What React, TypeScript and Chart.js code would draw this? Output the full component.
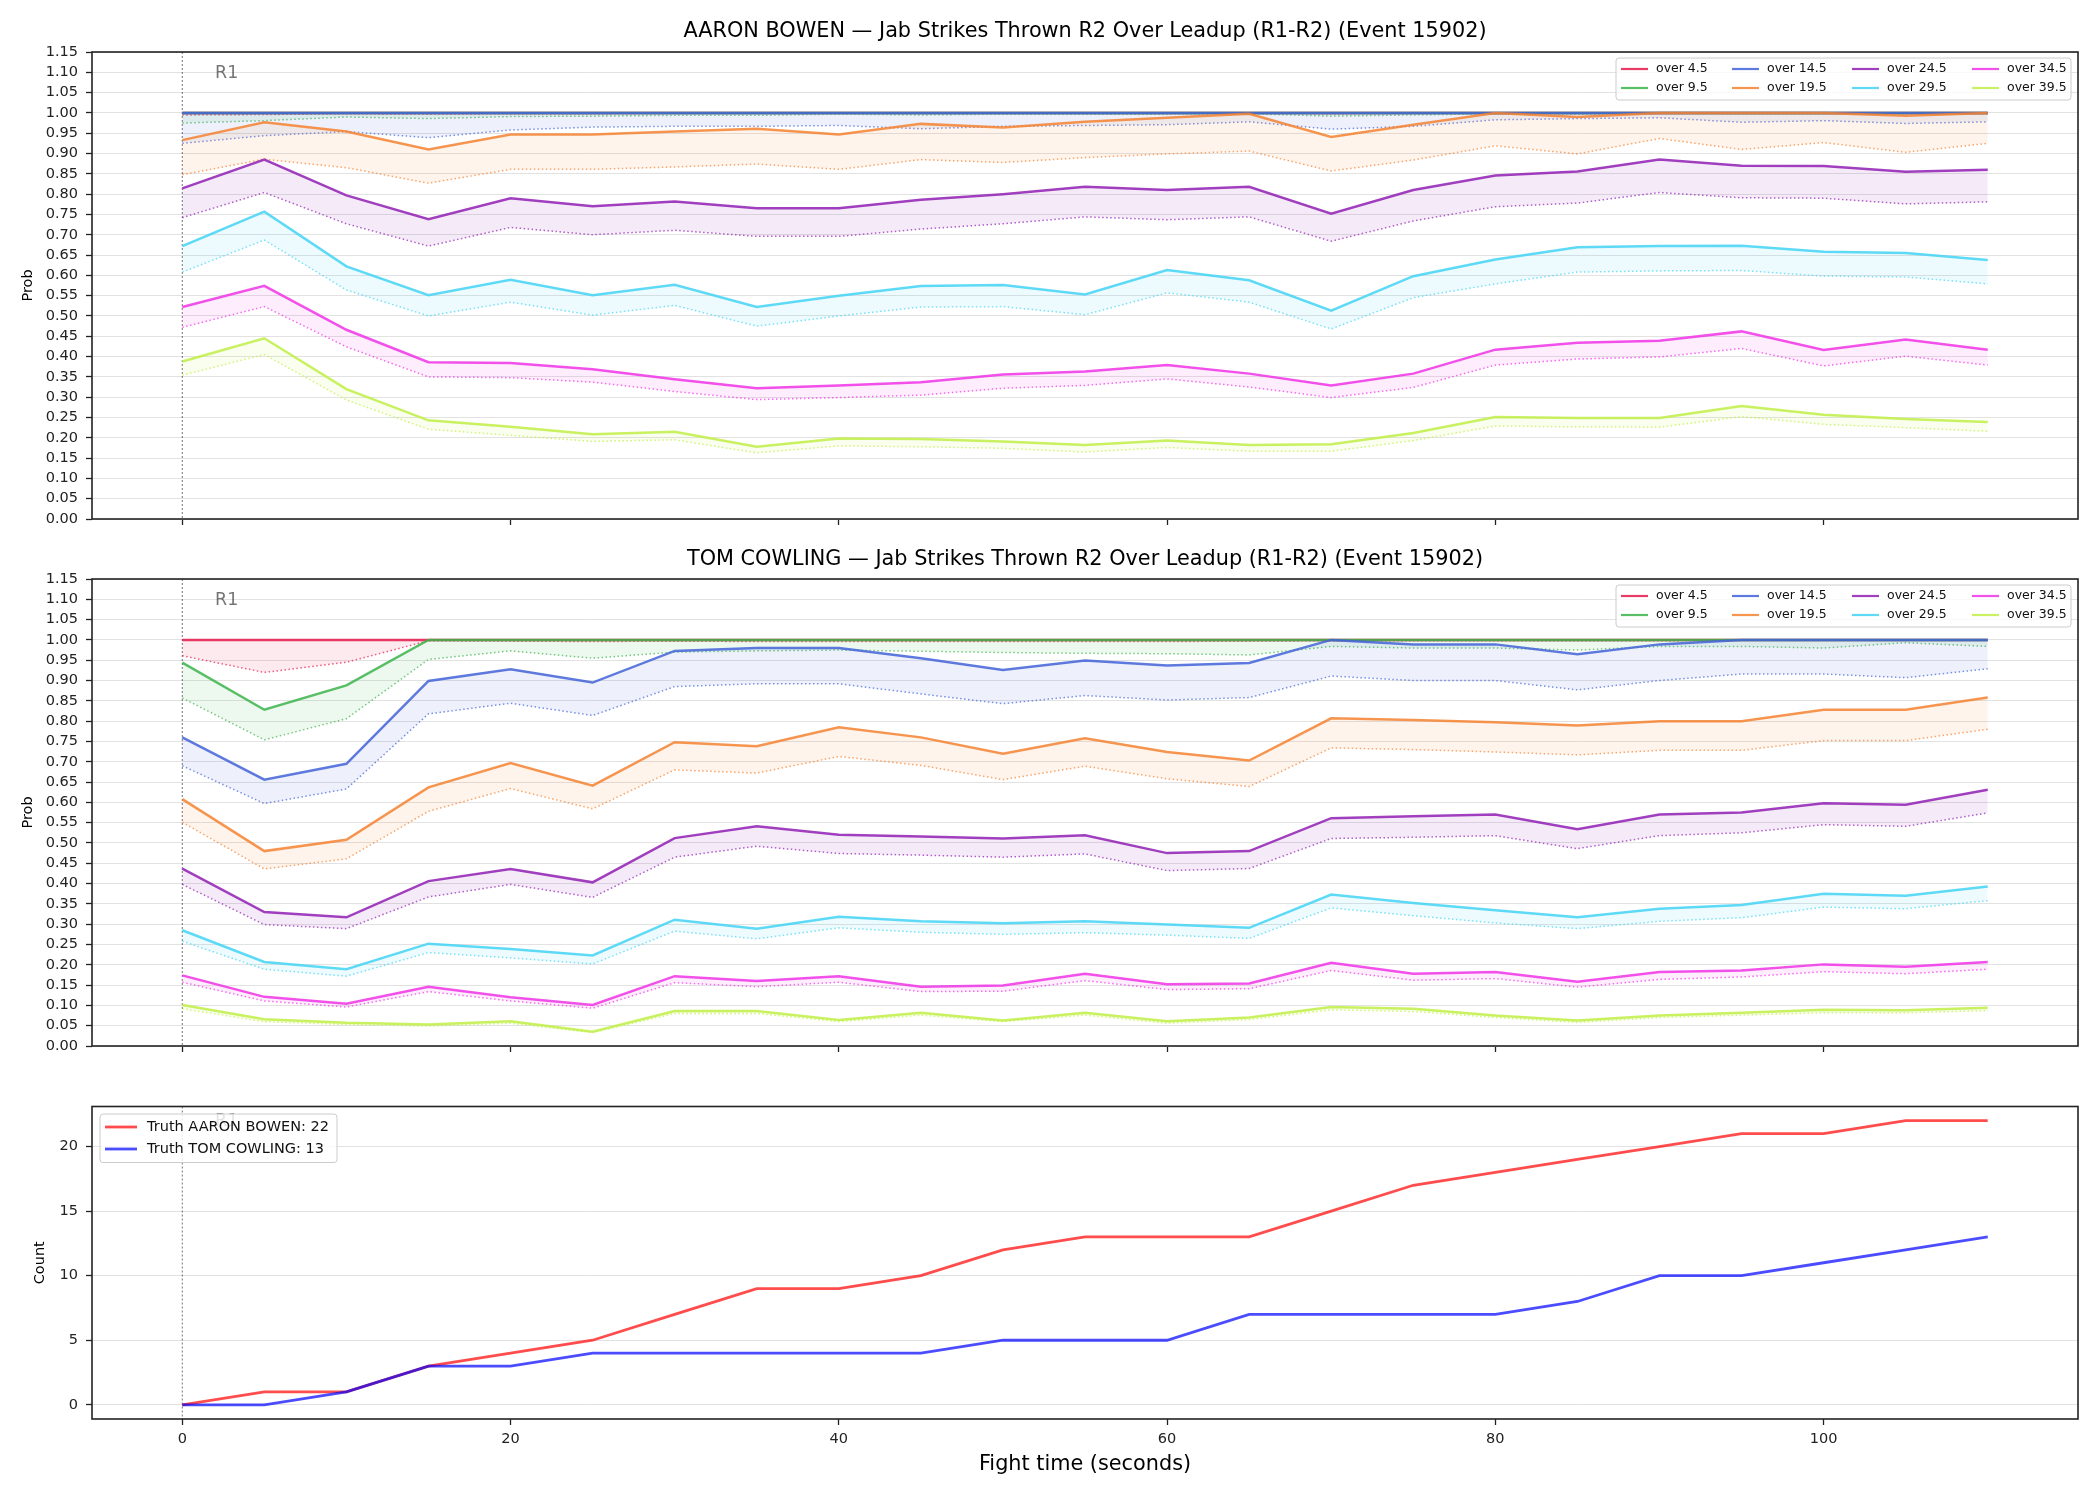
import React, { useEffect, useRef } from "react";
import { Chart, registerables } from "chart.js";

Chart.register(...registerables);

const FONT = "'DejaVu Sans', 'Liberation Sans', sans-serif";

// ---------- data ----------
const times = [0, 5, 10, 15, 20, 25, 30, 35, 40, 45, 50, 55, 60, 65, 70, 75, 80, 85, 90, 95, 100, 105, 110];
const xTicks = [0, 20, 40, 60, 80, 100];
const probTicks = [0, 0.05, 0.1, 0.15, 0.2, 0.25, 0.3, 0.35, 0.4, 0.45, 0.5, 0.55, 0.6, 0.65, 0.7, 0.75, 0.8, 0.85, 0.9, 0.95, 1.0, 1.05, 1.1, 1.15];
const countTicks = [0, 5, 10, 15, 20];

const lineLabels = ["over 4.5", "over 9.5", "over 14.5", "over 19.5", "over 24.5", "over 29.5", "over 34.5", "over 39.5"];
const lineColors = ["#e6194b", "#3cb44b", "#4363d8", "#f58231", "#911eb4", "#42d4f4", "#f032e6", "#bfef45"];

const titleAB = "AARON BOWEN — Jab Strikes Thrown R2 Over Leadup (R1-R2) (Event 15902)";
const titleTC = "TOM COWLING — Jab Strikes Thrown R2 Over Leadup (R1-R2) (Event 15902)";

// AARON BOWEN: solid (upper) and dotted (lower) probability lines
const abOver4 = [1, 1, 1, 1, 1, 1, 1, 1, 1, 1, 1, 1, 1, 1, 1, 1, 1, 1, 1, 1, 1, 1, 1];
const abOver4Lo = [0.995, 0.996, 0.998, 0.997, 0.998, 0.998, 0.999, 0.999, 0.999, 0.999, 0.999, 0.999, 0.999, 0.999, 0.998, 0.999, 1, 1, 1, 1, 1, 1, 1];
const abOver9 = [1, 1, 1, 1, 1, 1, 1, 1, 1, 1, 1, 1, 1, 1, 1, 1, 1, 1, 1, 1, 1, 1, 1];
const abOver9Lo = [0.975, 0.981, 0.99, 0.986, 0.991, 0.992, 0.994, 0.994, 0.997, 0.995, 0.997, 0.997, 0.997, 0.998, 0.992, 0.995, 0.998, 0.997, 0.999, 0.998, 0.998, 0.997, 0.998];
const abOver14 = [1, 1, 1, 1, 1, 1, 1, 1, 1, 1, 1, 1, 1, 1, 1, 1, 1, 1, 1, 1, 1, 1, 1];
const abOver14Lo = [0.925, 0.944, 0.954, 0.939, 0.958, 0.965, 0.967, 0.967, 0.969, 0.961, 0.967, 0.969, 0.971, 0.978, 0.96, 0.967, 0.983, 0.986, 0.988, 0.977, 0.981, 0.974, 0.978];
const abOver19 = [0.933, 0.977, 0.954, 0.91, 0.947, 0.947, 0.954, 0.961, 0.947, 0.973, 0.964, 0.978, 0.988, 0.998, 0.941, 0.971, 1.0, 0.99, 1.0, 1.0, 1.0, 0.993, 1.0];
const abOver19Lo = [0.848, 0.886, 0.865, 0.827, 0.861, 0.861, 0.867, 0.874, 0.861, 0.885, 0.878, 0.89, 0.899, 0.906, 0.857, 0.884, 0.919, 0.899, 0.937, 0.91, 0.927, 0.903, 0.925];
const abOver24 = [0.814, 0.885, 0.797, 0.738, 0.79, 0.77, 0.782, 0.765, 0.765, 0.786, 0.8, 0.818, 0.81, 0.818, 0.752, 0.81, 0.846, 0.856, 0.885, 0.87, 0.869, 0.855, 0.86];
const abOver24Lo = [0.742, 0.804, 0.727, 0.672, 0.718, 0.7, 0.711, 0.696, 0.696, 0.714, 0.727, 0.744, 0.737, 0.744, 0.684, 0.734, 0.769, 0.778, 0.804, 0.791, 0.79, 0.776, 0.781];
const abOver29 = [0.672, 0.757, 0.622, 0.551, 0.589, 0.551, 0.577, 0.522, 0.55, 0.574, 0.576, 0.553, 0.613, 0.588, 0.513, 0.598, 0.639, 0.669, 0.672, 0.673, 0.658, 0.655, 0.638];
const abOver29Lo = [0.608, 0.687, 0.564, 0.5, 0.534, 0.502, 0.526, 0.475, 0.5, 0.522, 0.523, 0.503, 0.557, 0.534, 0.468, 0.545, 0.579, 0.608, 0.611, 0.612, 0.598, 0.596, 0.579];
const abOver34 = [0.522, 0.574, 0.466, 0.386, 0.384, 0.369, 0.344, 0.322, 0.329, 0.337, 0.356, 0.363, 0.379, 0.358, 0.329, 0.358, 0.417, 0.434, 0.439, 0.462, 0.416, 0.442, 0.417];
const abOver34Lo = [0.472, 0.523, 0.424, 0.35, 0.348, 0.337, 0.314, 0.294, 0.299, 0.305, 0.322, 0.329, 0.345, 0.325, 0.299, 0.324, 0.379, 0.394, 0.399, 0.42, 0.377, 0.401, 0.379];
const abOver39 = [0.388, 0.445, 0.32, 0.243, 0.227, 0.209, 0.215, 0.178, 0.198, 0.197, 0.191, 0.182, 0.193, 0.182, 0.184, 0.212, 0.251, 0.249, 0.249, 0.278, 0.257, 0.246, 0.239];
const abOver39Lo = [0.354, 0.405, 0.293, 0.221, 0.206, 0.191, 0.195, 0.163, 0.18, 0.178, 0.174, 0.165, 0.176, 0.167, 0.167, 0.193, 0.229, 0.227, 0.226, 0.252, 0.233, 0.225, 0.216];

// TOM COWLING
const tcOver4 = [1, 1, 1, 1, 1, 1, 1, 1, 1, 1, 1, 1, 1, 1, 1, 1, 1, 1, 1, 1, 1, 1, 1];
const tcOver4Lo = [0.961, 0.92, 0.945, 0.998, 0.997, 0.996, 0.997, 0.996, 0.996, 0.996, 0.996, 0.996, 0.996, 0.997, 0.998, 0.998, 0.998, 0.998, 0.998, 0.999, 0.999, 0.999, 0.999];
const tcOver9 = [0.944, 0.828, 0.888, 1, 1, 1, 1, 1, 1, 1, 1, 1, 1, 1, 1, 1, 1, 1, 1, 1, 1, 1, 1];
const tcOver9Lo = [0.857, 0.754, 0.806, 0.952, 0.973, 0.955, 0.97, 0.973, 0.975, 0.972, 0.969, 0.967, 0.966, 0.963, 0.984, 0.98, 0.98, 0.975, 0.984, 0.984, 0.98, 0.993, 0.984];
const tcOver14 = [0.76, 0.656, 0.695, 0.899, 0.928, 0.895, 0.973, 0.98, 0.98, 0.955, 0.926, 0.949, 0.937, 0.943, 1.0, 0.989, 0.989, 0.965, 0.989, 1.0, 1.0, 1.0, 1.0];
const tcOver14Lo = [0.69, 0.597, 0.633, 0.818, 0.844, 0.814, 0.885, 0.892, 0.892, 0.867, 0.843, 0.863, 0.852, 0.858, 0.911, 0.9, 0.9, 0.877, 0.9, 0.916, 0.916, 0.907, 0.929];
const tcOver19 = [0.608, 0.48, 0.508, 0.637, 0.697, 0.641, 0.748, 0.738, 0.785, 0.76, 0.72, 0.758, 0.724, 0.703, 0.807, 0.803, 0.797, 0.789, 0.8, 0.8, 0.828, 0.828, 0.858];
const tcOver19Lo = [0.551, 0.436, 0.461, 0.578, 0.634, 0.584, 0.68, 0.672, 0.713, 0.691, 0.656, 0.689, 0.658, 0.639, 0.734, 0.73, 0.724, 0.717, 0.728, 0.728, 0.752, 0.752, 0.78];
const tcOver24 = [0.437, 0.33, 0.317, 0.406, 0.436, 0.403, 0.512, 0.541, 0.52, 0.516, 0.511, 0.519, 0.475, 0.48, 0.561, 0.566, 0.57, 0.534, 0.57, 0.575, 0.598, 0.594, 0.631];
const tcOver24Lo = [0.398, 0.299, 0.289, 0.367, 0.398, 0.366, 0.465, 0.492, 0.474, 0.47, 0.465, 0.473, 0.432, 0.437, 0.511, 0.514, 0.518, 0.486, 0.518, 0.525, 0.545, 0.541, 0.574];
const tcOver29 = [0.285, 0.207, 0.189, 0.252, 0.239, 0.223, 0.311, 0.289, 0.318, 0.307, 0.302, 0.307, 0.299, 0.291, 0.373, 0.352, 0.334, 0.317, 0.338, 0.347, 0.375, 0.37, 0.393];
const tcOver29Lo = [0.258, 0.189, 0.172, 0.23, 0.217, 0.202, 0.283, 0.264, 0.291, 0.28, 0.275, 0.279, 0.273, 0.265, 0.34, 0.321, 0.303, 0.289, 0.307, 0.316, 0.342, 0.338, 0.358];
const tcOver34 = [0.174, 0.121, 0.104, 0.146, 0.12, 0.101, 0.172, 0.16, 0.172, 0.146, 0.149, 0.178, 0.152, 0.154, 0.205, 0.178, 0.182, 0.158, 0.182, 0.186, 0.201, 0.195, 0.207];
const tcOver34Lo = [0.157, 0.111, 0.096, 0.134, 0.111, 0.093, 0.156, 0.146, 0.157, 0.134, 0.135, 0.161, 0.139, 0.141, 0.186, 0.162, 0.166, 0.145, 0.164, 0.17, 0.183, 0.178, 0.189];
const tcOver39 = [0.101, 0.066, 0.057, 0.053, 0.061, 0.035, 0.086, 0.086, 0.064, 0.082, 0.063, 0.082, 0.061, 0.07, 0.096, 0.092, 0.075, 0.063, 0.075, 0.082, 0.089, 0.088, 0.094];
const tcOver39Lo = [0.092, 0.06, 0.053, 0.049, 0.056, 0.033, 0.08, 0.08, 0.06, 0.076, 0.06, 0.076, 0.056, 0.065, 0.089, 0.085, 0.07, 0.058, 0.07, 0.076, 0.082, 0.082, 0.087];

// Truth cumulative counts
const truthLabels = ["Truth AARON BOWEN: 22", "Truth TOM COWLING: 13"];
const truthAB = [0, 1, 1, 3, 4, 5, 7, 9, 9, 10, 12, 13, 13, 13, 15, 17, 18, 19, 20, 21, 21, 22, 22];
const truthTC = [0, 0, 1, 3, 3, 4, 4, 4, 4, 4, 5, 5, 5, 7, 7, 7, 7, 8, 10, 10, 11, 12, 13];

const abHi = [abOver4, abOver9, abOver14, abOver19, abOver24, abOver29, abOver34, abOver39];
const abLo = [abOver4Lo, abOver9Lo, abOver14Lo, abOver19Lo, abOver24Lo, abOver29Lo, abOver34Lo, abOver39Lo];
const tcHi = [tcOver4, tcOver9, tcOver14, tcOver19, tcOver24, tcOver29, tcOver34, tcOver39];
const tcLo = [tcOver4Lo, tcOver9Lo, tcOver14Lo, tcOver19Lo, tcOver24Lo, tcOver29Lo, tcOver34Lo, tcOver39Lo];

// ---------- helpers ----------
function rgba(hex: string, a: number) {
  const n = parseInt(hex.slice(1), 16);
  return `rgba(${(n >> 16) & 255},${(n >> 8) & 255},${n & 255},${a})`;
}
const pts = (arr: number[]) => times.map((t, i) => ({ x: t, y: arr[i] }));

type Geo = { top: number; xh: number; title?: string; titleY?: number; yLabel: string; yLabelX: number; legend: "over" | "truth"; xLabel?: string; xLabelY?: number; showXLabels: boolean };

function decorPlugin(g: Geo) {
  return {
    id: "decor",
    beforeDatasetsDraw(chart: any) {
      const { ctx, chartArea } = chart;
      const { top, bottom } = chartArea;
      const x = chart.scales.x;
      const x0 = x.getPixelForValue(0);
      ctx.save();
      ctx.strokeStyle = "rgba(0,0,0,0.55)";
      ctx.lineWidth = 1;
      ctx.setLineDash([2, 2]);
      ctx.beginPath();
      ctx.moveTo(x0, top);
      ctx.lineTo(x0, bottom);
      ctx.stroke();
      ctx.setLineDash([]);
      ctx.fillStyle = "rgba(0,0,0,0.55)";
      ctx.font = `17.5px ${FONT}`;
      ctx.textAlign = "left";
      ctx.textBaseline = "middle";
      ctx.fillText("R1", x.getPixelForValue(2), top + (bottom - top) * 0.047);
      ctx.restore();
    },
    afterDraw(chart: any) {
      const { ctx, chartArea } = chart;
      const { left, right, top, bottom } = chartArea;
      ctx.save();
      // frame
      ctx.strokeStyle = "#222";
      ctx.lineWidth = 1.6;
      ctx.strokeRect(left, top, right - left, bottom - top);
      ctx.fillStyle = "#000";
      if (g.title) {
        ctx.font = `20.8px ${FONT}`;
        ctx.textAlign = "center";
        ctx.textBaseline = "middle";
        ctx.fillText(g.title, (left + right) / 2, g.titleY);
      }
      if (g.xLabel) {
        ctx.font = `20.8px ${FONT}`;
        ctx.textAlign = "center";
        ctx.textBaseline = "middle";
        ctx.fillText(g.xLabel, (left + right) / 2, g.xLabelY);
      }
      // y label
      ctx.save();
      ctx.translate(g.yLabelX, (top + bottom) / 2);
      ctx.rotate(-Math.PI / 2);
      ctx.font = `14.5px ${FONT}`;
      ctx.textAlign = "center";
      ctx.textBaseline = "middle";
      ctx.fillText(g.yLabel, 0, 0);
      ctx.restore();
      // legend
      if (g.legend === "over") {
        const bx = right - 462, by = top + 6, bw = 455, bh = 42;
        ctx.beginPath();
        ctx.roundRect(bx, by, bw, bh, 3);
        ctx.fillStyle = "rgba(255,255,255,0.8)";
        ctx.fill();
        ctx.strokeStyle = "#cccccc";
        ctx.lineWidth = 1;
        ctx.stroke();
        const colX = [-457, -346, -226, -106];
        const rowY = [top + 17, top + 36];
        ctx.font = `12.5px ${FONT}`;
        ctx.textAlign = "left";
        ctx.textBaseline = "middle";
        lineLabels.forEach((lab, k) => {
          const cx = right + colX[Math.floor(k / 2)];
          const cy = rowY[k % 2];
          ctx.strokeStyle = rgba(lineColors[k], 0.85);
          ctx.lineWidth = 2.2;
          ctx.beginPath();
          ctx.moveTo(cx, cy);
          ctx.lineTo(cx + 27, cy);
          ctx.stroke();
          ctx.fillStyle = "#111";
          ctx.fillText(lab, cx + 35, cy);
        });
      } else {
        const bx = left + 8, by = top + 7.5, bw = 237, bh = 48.5;
        ctx.beginPath();
        ctx.roundRect(bx, by, bw, bh, 3);
        ctx.fillStyle = "rgba(255,255,255,0.8)";
        ctx.fill();
        ctx.strokeStyle = "#cccccc";
        ctx.lineWidth = 1;
        ctx.stroke();
        const cols = ["rgba(255,0,0,0.7)", "rgba(0,0,255,0.7)"];
        const rowY = [top + 20.5, top + 42.5];
        ctx.font = `14.5px ${FONT}`;
        ctx.textAlign = "left";
        ctx.textBaseline = "middle";
        truthLabels.forEach((lab, k) => {
          ctx.strokeStyle = cols[k];
          ctx.lineWidth = 2.8;
          ctx.beginPath();
          ctx.moveTo(left + 13, rowY[k]);
          ctx.lineTo(left + 45, rowY[k]);
          ctx.stroke();
          ctx.fillStyle = "#111";
          ctx.fillText(lab, left + 55, rowY[k]);
        });
      }
      ctx.restore();
    },
  };
}

function baseScales(g: Geo, yMin: number, yMax: number, yTicks: number[], fmt: (v: number) => string) {
  return {
    x: {
      type: "linear",
      min: -5.5,
      max: 115.5,
      afterBuildTicks: (s: any) => {
        s.ticks = xTicks.map((v) => ({ value: v }));
      },
      afterFit: (s: any) => {
        s.height = g.xh;
      },
      grid: { drawOnChartArea: false, drawTicks: true, tickLength: 6, tickColor: "#222", tickWidth: 1.3 },
      border: { display: false },
      ticks: { display: g.showXLabels, font: { family: FONT, size: 14.5 }, color: "#222", padding: 6, maxRotation: 0, autoSkip: false },
    },
    y: {
      type: "linear",
      min: yMin,
      max: yMax,
      afterBuildTicks: (s: any) => {
        s.ticks = yTicks.map((v) => ({ value: v }));
      },
      afterFit: (s: any) => {
        s.width = 92;
      },
      grid: { color: "#e2e2e2", lineWidth: 1, drawTicks: true, tickLength: 6, tickColor: "#222", tickWidth: 1.3 },
      border: { display: false },
      ticks: { font: { family: FONT, size: 14.5 }, color: "#222", padding: 8, autoSkip: false, callback: (v: any) => fmt(Number(v)) },
    },
  };
}

function probConfig(hi: number[][], lo: number[][], g: Geo): any {
  const datasets: any[] = [];
  hi.forEach((arr, i) => {
    const c = lineColors[i];
    datasets.push({
      label: lineLabels[i],
      data: pts(arr),
      borderColor: rgba(c, 0.85),
      borderWidth: 2.5,
      pointRadius: 0,
      fill: false,
      tension: 0,
      order: 100 - 2 * i - 1,
    });
    datasets.push({
      label: lineLabels[i] + " low",
      data: pts(lo[i]),
      borderColor: rgba(c, 0.7),
      borderWidth: 1.5,
      borderDash: [1.5, 2.5],
      pointRadius: 0,
      fill: "-1",
      backgroundColor: rgba(c, 0.09),
      tension: 0,
      order: 100 - 2 * i,
    });
  });
  return {
    type: "line",
    data: { datasets },
    options: {
      responsive: false,
      maintainAspectRatio: false,
      animation: false,
      layout: { padding: { left: 0, right: 22, top: g.top, bottom: 0 } },
      plugins: { legend: { display: false }, tooltip: { enabled: false }, title: { display: false } },
      scales: baseScales(g, 0, 1.15, probTicks, (v) => v.toFixed(2)),
    },
    plugins: [decorPlugin(g)],
  };
}

function truthConfig(g: Geo): any {
  return {
    type: "line",
    data: {
      datasets: [
        { label: truthLabels[0], data: pts(truthAB), borderColor: "rgba(255,0,0,0.7)", borderWidth: 2.8, pointRadius: 0, fill: false, tension: 0, order: 2 },
        { label: truthLabels[1], data: pts(truthTC), borderColor: "rgba(0,0,255,0.7)", borderWidth: 2.8, pointRadius: 0, fill: false, tension: 0, order: 1 },
      ],
    },
    options: {
      responsive: false,
      maintainAspectRatio: false,
      animation: false,
      layout: { padding: { left: 0, right: 22, top: g.top, bottom: 0 } },
      plugins: { legend: { display: false }, tooltip: { enabled: false }, title: { display: false } },
      scales: baseScales(g, -1.1, 23.1, countTicks, (v) => String(Math.round(v))),
    },
    plugins: [decorPlugin(g)],
  };
}

const geo1: Geo = { top: 52, xh: 21, title: titleAB, titleY: 32, yLabel: "Prob", yLabelX: 28, legend: "over", showXLabels: false };
const geo2: Geo = { top: 39, xh: 34, title: titleTC, titleY: 20, yLabel: "Prob", yLabelX: 28, legend: "over", showXLabels: false };
const geo3: Geo = { top: 26.5, xh: 81, yLabel: "Count", yLabelX: 40, legend: "truth", xLabel: "Fight time (seconds)", xLabelY: 385, showXLabels: true };

export default function App() {
  const r1 = useRef<HTMLCanvasElement>(null);
  const r2 = useRef<HTMLCanvasElement>(null);
  const r3 = useRef<HTMLCanvasElement>(null);

  useEffect(() => {
    const charts = [
      new Chart(r1.current as HTMLCanvasElement, probConfig(abHi, abLo, geo1)),
      new Chart(r2.current as HTMLCanvasElement, probConfig(tcHi, tcLo, geo2)),
      new Chart(r3.current as HTMLCanvasElement, truthConfig(geo3)),
    ];
    return () => charts.forEach((c) => c.destroy());
  }, []);

  const cs = (top: number, h: number): React.CSSProperties => ({ position: "absolute", left: 0, top, width: 2100, height: h });

  return (
    <div style={{ position: "absolute", left: 0, top: 0, width: 2100, height: 1500, background: "#ffffff" }}>
      <canvas ref={r1} width={2100} height={540} style={cs(0, 540)} />
      <canvas ref={r2} width={2100} height={540} style={cs(540, 540)} />
      <canvas ref={r3} width={2100} height={420} style={cs(1080, 420)} />
    </div>
  );
}
